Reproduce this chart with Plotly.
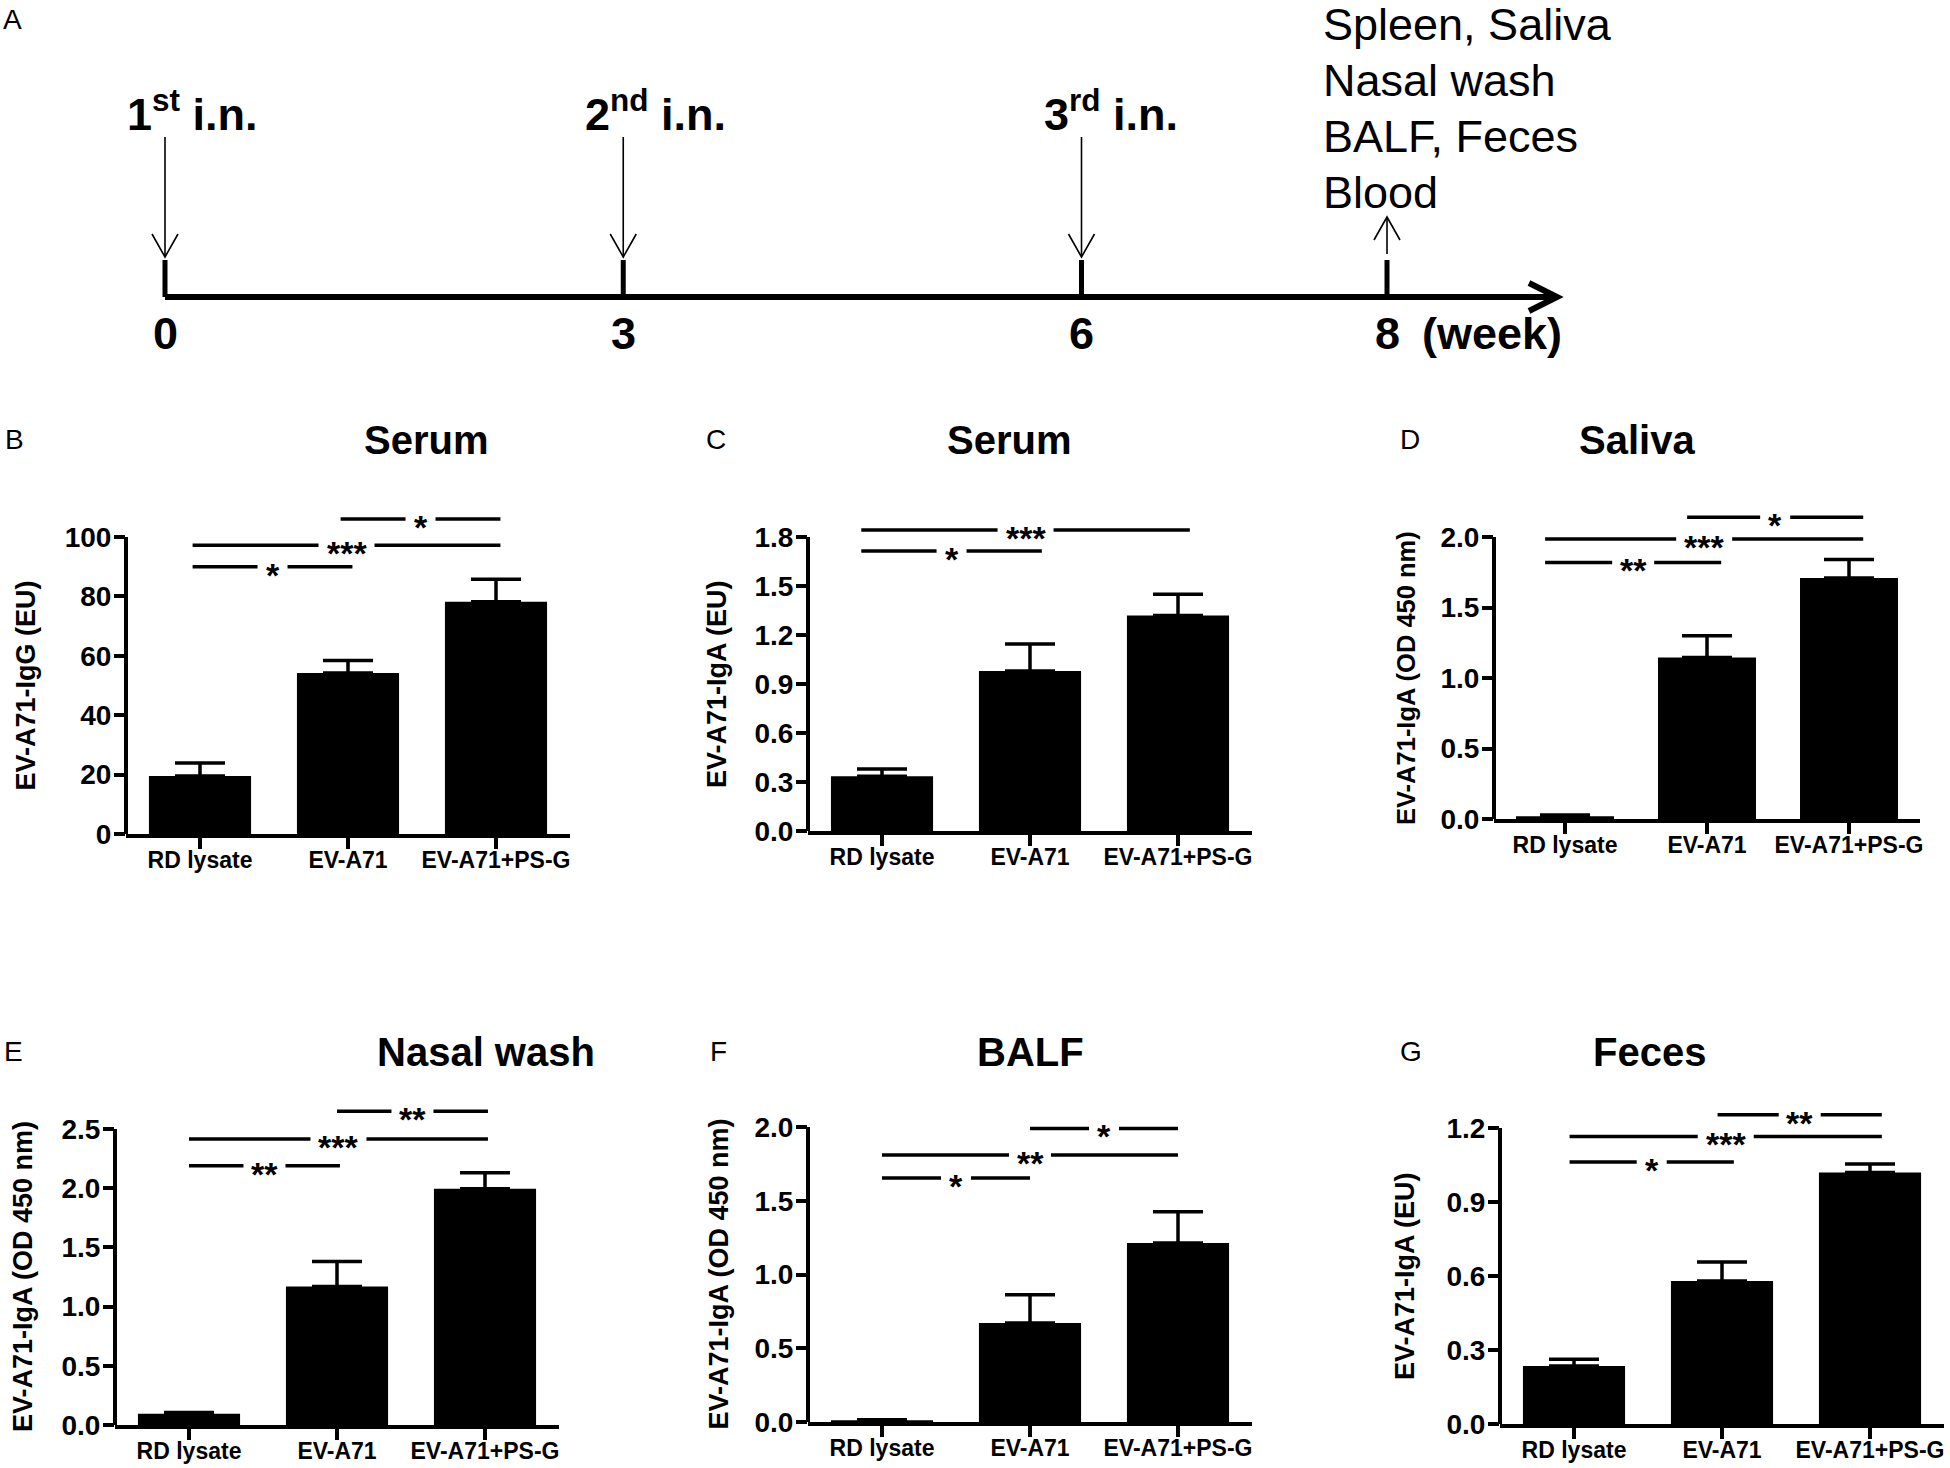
import plotly.graph_objects as go

W, H = 1950, 1468
FONT = "Liberation Sans, Arial, Helvetica, sans-serif"

# ---------------- data ----------------
categories = ["RD lysate", "EV-A71", "EV-A71+PS-G"]

# Panel A (immunisation schedule)
weeks = [0, 3, 6, 8]
week_labels = ["0", "3", "6", "8"]
week_unit = "(week)"
injection_weeks = [0, 3, 6]
injection_labels = ["1<sup>st</sup> i.n.", "2<sup>nd</sup> i.n.", "3<sup>rd</sup> i.n."]
sampling_week = 8
sampling_items = ["Spleen, Saliva", "Nasal wash", "BALF, Feces", "Blood"]

# Panel B  Serum IgG
serum_igg_mean = [19.5, 54.2, 78.2]
serum_igg_sem = [4.4, 4.2, 7.6]
serum_igg_ticks = [0, 20, 40, 60, 80, 100]
serum_igg_ticktext = ["0", "20", "40", "60", "80", "100"]
serum_igg_sig = [(0, 1, "*", 90.0), (0, 2, "***", 97.2), (1, 2, "*", 106.1)]

# Panel C  Serum IgA
serum_iga_mean = [0.335, 0.98, 1.32]
serum_iga_sem = [0.045, 0.165, 0.13]
serum_iga_ticks = [0, 0.3, 0.6, 0.9, 1.2, 1.5, 1.8]
serum_iga_ticktext = ["0.0", "0.3", "0.6", "0.9", "1.2", "1.5", "1.8"]
serum_iga_sig = [(0, 1, "*", 1.715), (0, 2, "***", 1.843)]

# Panel D  Saliva
saliva_mean = [0.02, 1.145, 1.71]
saliva_sem = [0.008, 0.155, 0.13]
saliva_ticks = [0, 0.5, 1.0, 1.5, 2.0]
saliva_ticktext = ["0.0", "0.5", "1.0", "1.5", "2.0"]
saliva_sig = [(0, 1, "**", 1.82), (0, 2, "***", 1.985), (1, 2, "*", 2.14)]

# Panel E  Nasal wash
nasal_mean = [0.095, 1.17, 1.995]
nasal_sem = [0.01, 0.21, 0.135]
nasal_ticks = [0, 0.5, 1.0, 1.5, 2.0, 2.5]
nasal_ticktext = ["0.0", "0.5", "1.0", "1.5", "2.0", "2.5"]
nasal_sig = [(0, 1, "**", 2.19), (0, 2, "***", 2.415), (1, 2, "**", 2.65)]

# Panel F  BALF
balf_mean = [0.012, 0.672, 1.214]
balf_sem = [0.004, 0.19, 0.212]
balf_ticks = [0, 0.5, 1.0, 1.5, 2.0]
balf_ticktext = ["0.0", "0.5", "1.0", "1.5", "2.0"]
balf_sig = [(0, 1, "*", 1.655), (0, 2, "**", 1.81), (1, 2, "*", 1.99)]

# Panel G  Feces
feces_mean = [0.235, 0.58, 1.02]
feces_sem = [0.027, 0.077, 0.034]
feces_ticks = [0, 0.3, 0.6, 0.9, 1.2]
feces_ticktext = ["0.0", "0.3", "0.6", "0.9", "1.2"]
feces_sig = [(0, 1, "*", 1.062), (0, 2, "***", 1.166), (1, 2, "**", 1.254)]

# ---------------- layout geometry (pixels) ----------------
panels = [
    dict(letter="B", title="Serum", ylabel="EV-A71-IgG (EU)", mean=serum_igg_mean, sem=serum_igg_sem,
         ticks=serum_igg_ticks, ticktext=serum_igg_ticktext, sig=serum_igg_sig,
         ax=126, sp=148, y0=834, ytop=537, ext=112, tx=362, ty=440, lx=3, ly=439,
         yl_off=-101, yl_size=27, lo=-0.05, hi=0.03),
    dict(letter="C", title="Serum", ylabel="EV-A71-IgA (EU)", mean=serum_iga_mean, sem=serum_iga_sem,
         ticks=serum_iga_ticks, ticktext=serum_iga_ticktext, sig=serum_iga_sig,
         ax=808, sp=148, y0=831, ytop=537, ext=1.9, tx=1009, ty=440, lx=704, ly=439,
         yl_off=-91, yl_size=27, lo=-0.14, hi=0.08),
    dict(letter="D", title="Saliva", ylabel="EV-A71-IgA (OD 450 nm)", mean=saliva_mean, sem=saliva_sem,
         ticks=saliva_ticks, ticktext=saliva_ticktext, sig=saliva_sig,
         ax=1494, sp=142, y0=819, ytop=537, ext=2.2, tx=1697, ty=440, lx=1398, ly=439,
         yl_off=-88, yl_size=25.5, lo=-0.14, hi=0.1),
    dict(letter="E", title="Nasal wash", ylabel="EV-A71-IgA (OD 450 nm)", mean=nasal_mean, sem=nasal_sem,
         ticks=nasal_ticks, ticktext=nasal_ticktext, sig=nasal_sig,
         ax=115, sp=148, y0=1425, ytop=1129, ext=2.72, tx=375, ty=1052, lx=2, ly=1051,
         yl_off=-92, yl_size=27, lo=0.0, hi=0.02),
    dict(letter="F", title="BALF", ylabel="EV-A71-IgA (OD 450 nm)", mean=balf_mean, sem=balf_sem,
         ticks=balf_ticks, ticktext=balf_ticktext, sig=balf_sig,
         ax=808, sp=148, y0=1422, ytop=1127, ext=2.05, tx=1030, ty=1052, lx=708, ly=1051,
         yl_off=-89, yl_size=27, lo=0.0, hi=0.0),
    dict(letter="G", title="Feces", ylabel="EV-A71-IgA (EU)", mean=feces_mean, sem=feces_sem,
         ticks=feces_ticks, ticktext=feces_ticktext, sig=feces_sig,
         ax=1500, sp=148, y0=1424, ytop=1128, ext=1.29, tx=1708, ty=1052, lx=1398, ly=1051,
         yl_off=-95, yl_size=27, lo=-0.03, hi=0.08),
]

def paper_x(px):
    return px / W

def paper_y(py):
    return 1 - py / H

fig = go.Figure()
shapes = []
annotations = []
layout = dict(width=W, height=H, margin=dict(l=0, r=0, t=0, b=0, autoexpand=False),
              paper_bgcolor="white", plot_bgcolor="white", showlegend=False,
              font=dict(family=FONT, color="black"))

# ---------------- Panel A ----------------
A_X0, A_K, A_H = 165.0, 152.75, 380.0   # px of week 0, px per week, panel height
layout["xaxis"] = dict(domain=[0, 1], range=[-A_X0 / A_K, (W - A_X0) / A_K], visible=False,
                       fixedrange=True, automargin=False)
layout["yaxis"] = dict(domain=[1 - A_H / H, 1], range=[A_H, 0], visible=False,
                       fixedrange=True, automargin=False)

LINE_Y = 297
tip = (1557 - A_X0) / A_K
fig.add_trace(go.Scatter(x=[weeks[0], tip], y=[LINE_Y, LINE_Y], mode="lines",
                         line=dict(color="black", width=6), hoverinfo="skip", xaxis="x", yaxis="y"))
chev = 28 / A_K
shapes.append(dict(type="path", xref="x", yref="y",
                   path=f"M {tip - chev},{LINE_Y - 14} L {tip},{LINE_Y} L {tip - chev},{LINE_Y + 14}",
                   line=dict(color="black", width=6)))
for w, lab in zip(weeks, week_labels):
    shapes.append(dict(type="line", xref="x", yref="y", x0=w, x1=w, y0=260, y1=LINE_Y,
                       line=dict(color="black", width=5)))
    annotations.append(dict(x=w, y=333, xref="x", yref="y", text=lab, showarrow=False,
                            font=dict(size=45, family=FONT, color="black", weight="bold")))
annotations.append(dict(x=weeks[-1], y=333, xref="x", yref="y", text=week_unit, showarrow=False,
                        xanchor="left", xshift=33,
                        font=dict(size=45, family=FONT, color="black", weight="bold")))
dx = 13 / A_K
for w, lab in zip(injection_weeks, injection_labels):
    shapes.append(dict(type="line", xref="x", yref="y", x0=w, x1=w, y0=137, y1=256,
                       line=dict(color="black", width=1.6)))
    shapes.append(dict(type="path", xref="x", yref="y",
                       path=f"M {w - dx},234 L {w},257 L {w + dx},234",
                       line=dict(color="black", width=1.6)))
    annotations.append(dict(x=w, y=111, xref="x", yref="y", text=lab, showarrow=False,
                            xanchor="left", xshift=-40,
                            font=dict(size=45, family=FONT, color="black", weight="bold")))
shapes.append(dict(type="line", xref="x", yref="y", x0=sampling_week, x1=sampling_week, y0=218, y1=254,
                   line=dict(color="black", width=1.6)))
shapes.append(dict(type="path", xref="x", yref="y",
                   path=f"M {sampling_week - dx},240 L {sampling_week},217 L {sampling_week + dx},240",
                   line=dict(color="black", width=1.6)))
for idx, item in enumerate(sampling_items):
    annotations.append(dict(x=sampling_week, y=24 + 56 * idx, xref="x", yref="y", text=item,
                            showarrow=False, xanchor="left", yanchor="middle", xshift=-66,
                            font=dict(size=45, family=FONT, color="black")))
annotations.append(dict(x=paper_x(1), y=paper_y(19), xref="paper", yref="paper", text="A",
                        showarrow=False, xanchor="left", yanchor="middle",
                        font=dict(size=28, family=FONT, color="black")))

# ---------------- Bar panels ----------------
xs = list(range(len(categories)))
GAP = {1: 15, 2: 21, 3: 28}
for n, p in enumerate(panels, start=2):
    xa, ya = f"x{n}", f"y{n}"
    k = (p["y0"] - p["ytop"]) / p["ticks"][-1]
    top_px = p["y0"] - p["ext"] * k
    layout[f"xaxis{n}"] = dict(
        domain=[paper_x(p["ax"]), paper_x(p["ax"] + 3 * p["sp"])], range=[-0.5, 2.5], anchor=ya,
        tickmode="array", tickvals=xs, ticktext=categories,
        showline=True, linecolor="black", linewidth=4,
        ticks="outside", ticklen=11, tickwidth=4, tickcolor="black", ticklabelstandoff=-9,
        tickfont=dict(size=23, family=FONT, color="black", weight="bold"),
        showgrid=False, zeroline=False, fixedrange=True, automargin=False)
    layout[f"yaxis{n}"] = dict(
        domain=[paper_y(p["y0"]), paper_y(top_px)], range=[0, p["ext"]], anchor=xa,
        tickmode="array", tickvals=p["ticks"], ticktext=p["ticktext"],
        showline=False, ticks="outside", ticklen=11, tickwidth=4, tickcolor="black", ticklabelstandoff=-3,
        tickfont=dict(size=28, family=FONT, color="black", weight="bold"),
        showgrid=False, zeroline=False, fixedrange=True, automargin=False)
    fig.add_trace(go.Bar(
        x=xs, y=p["mean"], width=0.69, xaxis=xa, yaxis=ya, hoverinfo="skip",
        marker=dict(color="black", line=dict(width=0)),
        error_y=dict(type="data", array=p["sem"], arrayminus=[0] * len(xs), symmetric=False,
                     color="black", thickness=3.5, width=25)))
    # y axis line up to the last tick
    shapes.append(dict(type="line", xref=f"{xa} domain", yref=f"{ya} domain", x0=0, x1=0,
                       y0=0, y1=p["ticks"][-1] / p["ext"], line=dict(color="black", width=4)))
    # significance brackets
    for i, j, stars, yv in p["sig"]:
        x_start = i + p["lo"]
        x_end = j + p["hi"]
        xm = (x_start + x_end) / 2
        g = GAP[len(stars)] / p["sp"]
        for a, b in ((x_start, xm - g), (xm + g, x_end)):
            shapes.append(dict(type="line", xref=xa, yref=ya, x0=a, x1=b, y0=yv, y1=yv,
                               line=dict(color="black", width=3.5)))
        annotations.append(dict(x=xm, y=yv, xref=xa, yref=ya, text=stars, showarrow=False,
                                yanchor="middle", yshift=-8,
                                font=dict(size=34, family=FONT, color="black", weight="bold")))
    # title, panel letter, y title
    annotations.append(dict(x=paper_x(p["tx"]), y=paper_y(p["ty"]), xref="paper", yref="paper",
                            text=p["title"], showarrow=False, yanchor="middle",
                            font=dict(size=40, family=FONT, color="black", weight="bold")))
    annotations.append(dict(x=paper_x(p["lx"]), y=paper_y(p["ly"]), xref="paper", yref="paper",
                            text=p["letter"], showarrow=False, xanchor="left", yanchor="middle",
                            font=dict(size=28, family=FONT, color="black")))
    annotations.append(dict(x=0, y=p["ticks"][-1] / 2, xref=f"{xa} domain", yref=ya,
                            text=p["ylabel"], showarrow=False, textangle=-90,
                            xanchor="center", yanchor="middle", xshift=p["yl_off"],
                            font=dict(size=p["yl_size"], family=FONT, color="black", weight="bold")))

layout["shapes"] = shapes
layout["annotations"] = annotations
fig.update_layout(**layout)
fig.write_html("out.html", config={"displayModeBar": False},
               post_script="document.body.style.margin='0';document.body.style.overflow='hidden';")
